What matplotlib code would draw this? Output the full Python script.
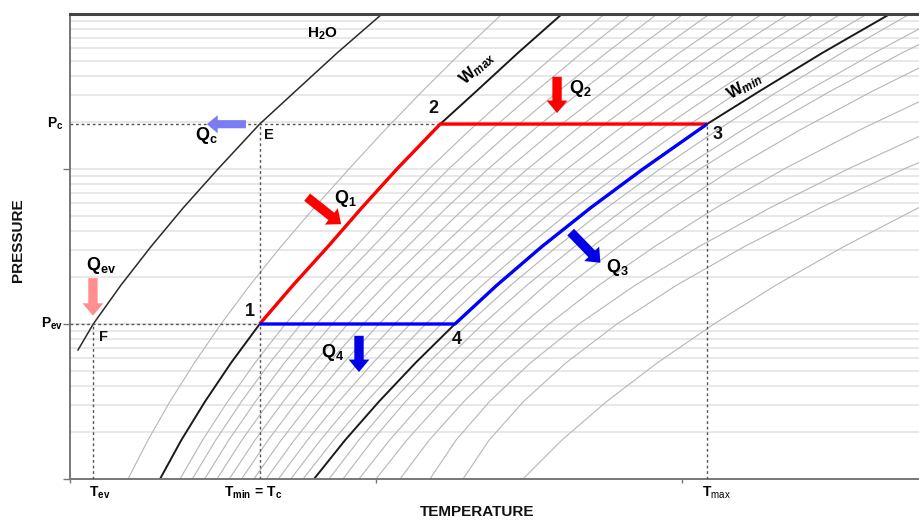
import matplotlib
matplotlib.use("Agg")
import matplotlib.pyplot as plt
from matplotlib.ticker import LogLocator, NullFormatter, FixedLocator
import matplotlib.transforms as mtransforms

plt.rcParams['font.family'] = ['Liberation Sans', 'DejaVu Sans']
plt.rcParams['mathtext.fontset'] = 'custom'
plt.rcParams['mathtext.rm'] = 'Liberation Sans'
plt.rcParams['mathtext.bf'] = 'Liberation Sans:bold'
plt.rcParams['mathtext.it'] = 'Liberation Sans:italic'
plt.rcParams['mathtext.bfit'] = 'Liberation Sans:bold:italic'

# ---------------- data ----------------
# pressure levels at which the grey isosteres were read
P_LEVELS = [1, 1.78, 3.16, 5.62, 10, 17.8, 31.6, 56.2, 100, 178, 316, 562, 1000]
# temperature of each grey isostere at those pressure levels
ISOSTERES_T = [
    [9.48, 12.73, 16.34, 20.33, 24.67, 29.40, 34.48, 39.90, 45.59, 51.42, 57.52, 63.91, 70.59],
    [17.98, 21.66, 25.76, 30.24, 35.19, 40.78, 46.71, 52.54, 58.66, 65.31, 72.35, 79.69, 87.36],
    [19.99, 23.80, 28.03, 32.65, 37.74, 43.44, 49.51, 55.53, 61.88, 68.76, 76.05, 83.67, 91.65],
    [22.00, 25.94, 30.30, 35.06, 40.29, 46.10, 52.31, 58.52, 65.10, 72.21, 79.75, 87.65, 95.94],
    [24.01, 28.08, 32.57, 37.47, 42.84, 48.76, 55.11, 61.51, 68.32, 75.66, 83.45, 91.63, 100.23],
    [26.02, 30.22, 34.84, 39.88, 45.39, 51.42, 57.91, 64.50, 71.54, 79.11, 87.15, 95.61, 104.52],
    [28.03, 32.36, 37.11, 42.29, 47.94, 54.08, 60.71, 67.49, 74.76, 82.56, 90.85, 99.59, 108.81],
    [30.04, 34.50, 39.38, 44.70, 50.49, 56.74, 63.51, 70.48, 77.98, 86.01, 94.55, 103.57, 113.10],
    [32.05, 36.64, 41.65, 47.11, 53.04, 59.40, 66.31, 73.47, 81.20, 89.46, 98.25, 107.55, 117.39],
    [34.06, 38.78, 43.92, 49.52, 55.59, 62.06, 69.11, 76.46, 84.42, 92.91, 101.95, 111.53, 121.68],
    [36.07, 40.92, 46.19, 51.93, 58.14, 64.72, 71.91, 79.45, 87.64, 96.36, 105.65, 115.51, 125.97],
    [38.08, 43.06, 48.46, 54.34, 60.69, 67.38, 74.71, 82.44, 90.86, 99.81, 109.35, 119.49, 130.26],
    [42.32, 47.19, 52.60, 58.55, 65.03, 72.04, 79.59, 87.71, 96.41, 105.74, 115.65, 126.16, 137.26],
    [44.61, 49.43, 54.84, 60.87, 67.48, 74.67, 82.47, 90.90, 100.00, 109.80, 120.31, 131.47, 143.30],
    [47.22, 52.22, 57.78, 63.92, 70.59, 77.68, 85.36, 93.74, 102.94, 113.11, 124.15, 136.01, 148.69],
    [50.00, 55.03, 60.72, 67.06, 74.02, 81.47, 89.61, 98.53, 108.33, 119.20, 131.01, 143.73, 157.35],
    [53.92, 58.69, 64.35, 70.88, 78.27, 86.44, 95.52, 105.57, 116.67, 128.94, 142.30, 156.73, 172.22],
    [58.82, 63.07, 68.55, 75.25, 83.17, 92.37, 102.79, 114.40, 127.13, 140.95, 155.90, 171.99, 189.22],
    [64.22, 68.48, 74.09, 81.05, 89.38, 99.12, 110.21, 122.62, 136.28, 151.15, 167.26, 184.64, 203.27],
    [74.02, 80.36, 87.68, 95.98, 105.23, 115.34, 126.46, 138.64, 151.96, 166.55, 182.32, 199.25, 217.32],
]

# cycle state values
T_EV = 3.8
T_C = 31.0        # = T_min
T_2 = 60.5
T_4 = 62.9
T_MAX = 104.1
P_EV = 10
P_C = 195

# black reference curves
H2O_T = [1.31, T_EV, 8.32, 13.24, 18.51, 24.18, T_C, 36.77, 43.68, 50.98]
H2O_P = [6.8, P_EV, 17.8, 31.6, 56.2, 100, P_C, 316, 562, 1000]
WMAX_T = [14.71, 18.18, 22.06, 26.32, T_C, 36.45, 42.16, 47.68, 53.43, T_2, 66.34, 73.22, 80.39]
WMAX_P = [1, 1.78, 3.16, 5.62, P_EV, 17.8, 31.6, 56.2, 100, P_C, 316, 562, 1000]
WMIN_T = [39.87, 44.95, 50.49, 56.47, T_4, 69.76, 77.12, 85.08, 93.63, T_MAX, 112.58, 122.97, 133.99]
WMIN_P = [1, 1.78, 3.16, 5.62, P_EV, 17.8, 31.6, 56.2, 100, P_C, 316, 562, 1000]

X_TICKS = [0, 50, 100]
Y_TICKS = [1, 10, 100]

# ---------------- figure ----------------
fig = plt.figure(figsize=(9.2, 5.23), dpi=100)
ax = fig.add_axes([70 / 920, 44 / 523, 850 / 920, 465 / 523])
ax.set_yscale('log')
ax.set_xlim(0, 138.9)
ax.set_ylim(1, 1000)

ax.yaxis.set_major_locator(FixedLocator(Y_TICKS))
ax.yaxis.set_minor_locator(LogLocator(base=10, subs=range(2, 10)))
ax.yaxis.set_major_formatter(NullFormatter())
ax.yaxis.set_minor_formatter(NullFormatter())
ax.grid(axis='y', which='both', color='#e6e6e6', lw=1.3, zorder=0)
ax.set_axisbelow(True)
ax.tick_params(axis='y', which='minor', length=0)
ax.tick_params(axis='y', which='major', length=5, width=1, color='#777777', direction='out')
ax.set_xticks(X_TICKS)
ax.set_xticklabels([])
ax.tick_params(axis='x', length=3, width=1, color='#777777', direction='out')

for s in ('left', 'bottom'):
    ax.spines[s].set_color('#777777')
    ax.spines[s].set_linewidth(1.4)
ax.spines['top'].set_color('#444444')
ax.spines['top'].set_linewidth(2.2)
ax.spines['right'].set_visible(False)

# grey isosteres
for tv in ISOSTERES_T:
    ax.plot(tv, P_LEVELS, color='#b6b6b6', lw=0.8, zorder=1)

# black curves
ax.plot(H2O_T, H2O_P, color='#2a2a2a', lw=1.1, zorder=2)
ax.plot(WMAX_T, WMAX_P, color='#1a1a1a', lw=1.4, zorder=2)
ax.plot(WMIN_T, WMIN_P, color='#1a1a1a', lw=1.4, zorder=2)

# dashed guides
dkw = dict(color='#555555', lw=1.0, ls=(0, (2, 2)), zorder=3)
ax.plot([0, T_2], [P_C, P_C], **dkw)
ax.plot([0, T_C], [P_EV, P_EV], **dkw)
ax.plot([T_EV, T_EV], [1, P_EV], **dkw)
ax.plot([T_C, T_C], [1, P_C], **dkw)
ax.plot([T_MAX, T_MAX], [1, P_C], **dkw)

# cycle: red 1 -> 2 -> 3, blue 3 -> 4 -> 1
red_T = [t for t, p in zip(WMAX_T, WMAX_P) if P_EV <= p <= P_C] + [T_MAX]
red_P = [p for p in WMAX_P if P_EV <= p <= P_C] + [P_C]
blue_T = [t for t, p in zip(WMIN_T, WMIN_P) if P_EV <= p <= P_C][::-1] + [T_C]
blue_P = [p for p in WMIN_P if P_EV <= p <= P_C][::-1] + [P_EV]
ax.plot(red_T, red_P, color='#ff0000', lw=2.4, zorder=4, solid_capstyle='butt')
ax.plot(blue_T, blue_P, color='#0000ff', lw=2.4, zorder=4, solid_capstyle='butt')

# heat arrows (axes fraction)
def arrow(tail, head, color, scale=15):
    ax.annotate('', xy=head, xytext=tail, xycoords='axes fraction', textcoords='axes fraction',
                arrowprops=dict(arrowstyle='simple,head_length=0.6,head_width=1.0,tail_width=0.45',
                                fc=color, ec='none', lw=0, mutation_scale=scale,
                                shrinkA=0, shrinkB=0), zorder=6)

arrow((0.573, 0.865), (0.573, 0.787), '#ff0000')
arrow((0.279, 0.606), (0.319, 0.548), '#ff0000')
arrow((0.207, 0.763), (0.161, 0.763), '#7b7bf3', scale=13)
arrow((0.027, 0.432), (0.027, 0.351), '#ff8f8f')
arrow((0.340, 0.308), (0.340, 0.230), '#0000e8')
arrow((0.589, 0.531), (0.624, 0.465), '#0000e8')

bf = dict(fontweight='bold', color='#111111')
qs = 13
for txt, x, y in [(r'$\mathbf{Q}_{\mathbf{1}}$', 0.324, 0.604),
                  (r'$\mathbf{Q}_{\mathbf{2}}$', 0.600, 0.839),
                  (r'$\mathbf{Q}_{\mathbf{c}}$', 0.160, 0.738),
                  (r'$\mathbf{Q}_{\mathbf{ev}}$', 0.036, 0.460),
                  (r'$\mathbf{Q}_{\mathbf{3}}$', 0.644, 0.454),
                  (r'$\mathbf{Q}_{\mathbf{4}}$', 0.309, 0.273)]:
    ax.text(x, y, txt, transform=ax.transAxes, ha='center', va='center', fontsize=qs)

ax.text(0.297, 0.957, r'$\mathbf{H}_{\mathbf{2}}\mathbf{O}$', transform=ax.transAxes, ha='center', va='center', fontsize=11)
ax.text(0.479, 0.884, r'$\mathbf{W}_{\mathbfit{max}}$', transform=ax.transAxes, ha='center', va='center',
        fontsize=12, rotation=42, rotation_mode='anchor')
ax.text(0.794, 0.845, r'$\mathbf{W}_{\mathbfit{min}}$', transform=ax.transAxes, ha='center', va='center',
        fontsize=12, rotation=31, rotation_mode='anchor')

# state point labels
def plabel(txt, xy, off, size=13):
    ax.annotate(txt, xy=xy, xytext=(off[0] * 0.72, off[1] * 0.72), textcoords='offset points',
                ha='center', va='center', fontsize=size, **bf)

plabel('1', (T_C, P_EV), (-10, 13))
plabel('2', (T_2, P_C), (-7, 16))
plabel('3', (T_MAX, P_C), (11, -10))
plabel('4', (T_4, P_EV), (2, -16))
plabel('E', (T_C, P_C), (9, -11), size=10.5)
plabel('F', (T_EV, P_EV), (10, -13), size=10.5)

# axis side labels
ytr = mtransforms.blended_transform_factory(ax.transAxes, ax.transData)
xtr = mtransforms.blended_transform_factory(ax.transData, ax.transAxes)
ax.text(-0.008, P_C, r'$\mathbf{P}_{\mathbf{c}}$', transform=ytr, ha='right', va='center', fontsize=10)
ax.text(-0.008, P_EV, r'$\mathbf{P}_{\mathbf{ev}}$', transform=ytr, ha='right', va='center', fontsize=10)
ax.text(T_EV + 1.1, -0.03, r'$\mathbf{T}_{\mathbf{ev}}$', transform=xtr, ha='center', va='center', fontsize=10)
ax.text(T_C - 1.0, -0.03, r'$\mathbf{T}_{\mathbf{min}}\mathbf{\,=\,T}_{\mathbf{c}}$', transform=xtr,
        ha='center', va='center', fontsize=10)
ax.text(T_MAX + 1.6, -0.03, r'$\mathbf{T}_{\mathrm{max}}$', transform=xtr, ha='center', va='center', fontsize=10)

ax.text(0.479, -0.071, 'TEMPERATURE', transform=ax.transAxes, ha='center', va='center', fontsize=11, **bf)
ax.text(-0.061, 0.514, 'PRESSURE', transform=ax.transAxes, ha='center', va='center', fontsize=11,
        rotation=90, **bf)

fig.savefig('out.png', dpi=100)
